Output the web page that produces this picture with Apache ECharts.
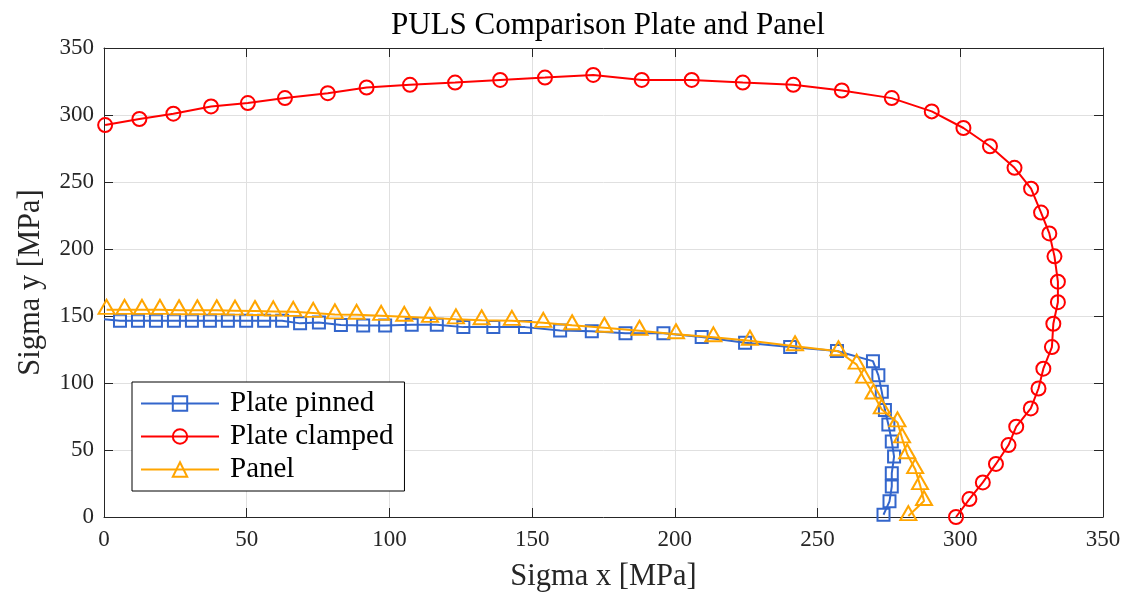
<!DOCTYPE html>
<html>
<head>
<meta charset="utf-8">
<script src="https://cdn.jsdelivr.net/npm/echarts@6/dist/echarts.min.js"></script>
<style>
html,body{margin:0;padding:0;background:#fff;}
#chart{width:1125px;height:597px;}
</style>
</head>
<body>
<div id="chart"></div>
<script>
// ---- Data ----
var xTicks = [0, 50, 100, 150, 200, 250, 300, 350];
var yTicks = [0, 50, 100, 150, 200, 250, 300, 350];

var pinnedX = [0, 5.6, 11.9, 18.2, 24.5, 30.8, 37.1, 43.4, 49.8, 56.1, 62.4, 68.7, 75.3, 83.0, 90.8, 98.5, 107.8, 116.6, 125.9, 136.4, 147.5, 159.8, 170.9, 182.7, 196.0, 209.4, 224.6, 240.4, 256.8, 269.4, 271.3, 272.5, 273.6, 274.8, 276.0, 276.8, 276.0, 276.0, 275.2, 273.1];
var pinnedY = [147.5, 146.4, 146.4, 146.4, 146.4, 146.4, 146.4, 146.4, 146.4, 146.4, 146.4, 144.5, 145.2, 143.2, 143.0, 143.0, 143.4, 143.4, 141.7, 141.7, 141.7, 139.2, 138.7, 137.2, 137.2, 134.3, 130.0, 126.8, 123.9, 116.3, 105.7, 93.4, 79.8, 69.1, 56.3, 45.1, 32.7, 22.8, 11.7, 1.7];

var clampedX = [0.4, 12.4, 24.3, 37.5, 50.4, 63.4, 78.4, 92.0, 107.2, 123.0, 138.8, 154.5, 171.4, 188.4, 205.9, 223.8, 241.5, 258.5, 276.0, 290.0, 301.1, 310.4, 319.0, 324.8, 328.3, 331.2, 333.0, 334.2, 334.2, 332.6, 332.1, 329.1, 327.4, 324.7, 319.6, 316.9, 312.5, 307.9, 303.2, 298.5];
var clampedY = [292.5, 297.0, 301.0, 306.4, 308.9, 312.6, 316.3, 320.5, 322.5, 324.2, 326.2, 327.9, 329.9, 326.2, 326.2, 324.2, 322.5, 318.3, 312.6, 302.7, 290.3, 276.7, 260.6, 245.0, 227.2, 211.6, 194.5, 175.6, 160.3, 144.2, 126.8, 110.7, 95.9, 81.0, 67.4, 53.7, 39.6, 25.8, 13.4, 0];

var panelX = [0.9, 7.2, 13.3, 19.6, 26.3, 32.7, 39.5, 45.9, 52.9, 59.3, 66.3, 73.3, 80.9, 88.5, 97.1, 105.2, 114.2, 123.3, 132.3, 142.9, 153.9, 164.0, 175.3, 187.6, 200.4, 213.5, 226.3, 242.1, 257.3, 263.7, 266.3, 269.6, 272.5, 278.0, 279.6, 281.4, 284.2, 285.9, 287.3, 281.8];
var panelY = [154.6, 154.6, 154.6, 154.6, 154.3, 154.3, 154.3, 154.0, 153.7, 153.4, 153.1, 152.3, 151.2, 150.9, 150.1, 149.4, 148.6, 147.5, 146.8, 146.4, 144.9, 143.1, 141.2, 139.0, 136.4, 134.1, 131.5, 127.4, 123.7, 113.7, 103.3, 91.4, 80.3, 70.6, 58.7, 46.8, 35.7, 23.8, 11.9, 0.7];

var seriesNames = ['Plate pinned', 'Plate clamped', 'Panel'];
var titleText = 'PULS Comparison Plate and Panel';
var xName = 'Sigma x [MPa]';
var yName = 'Sigma y [MPa]';

function pairs(xs, ys) { return xs.map(function (x, i) { return [x, ys[i]]; }); }

var FONT = '"Liberation Serif", "Times New Roman", serif';
var AX = '#262626';
var GRID = '#e0e0e0';

var chart = echarts.init(document.getElementById('chart'), null, {renderer: 'canvas'});

var baseAxis = {
  min: 0, max: 350, interval: 50,
  axisLine: {show: true, onZero: false, lineStyle: {color: AX, width: 1}},
  axisTick: {show: true, inside: true, length: 9, lineStyle: {color: AX}},
  splitLine: {show: false}
};

// pinned series: first point (at the axis) has no marker
var pinnedData = pairs(pinnedX, pinnedY).map(function (p, i) {
  return i === 0 ? {value: p, symbol: 'none'} : p;
});

var option = {
  backgroundColor: '#fff',
  animation: false,
  title: {
    text: titleText,
    left: 603, top: 5, textAlign: 'center',
    textStyle: {fontFamily: FONT, fontWeight: 'normal', fontSize: 31, color: '#000'}
  },
  grid: {left: 104, right: 22, top: 48, bottom: 78, containLabel: false},
  legend: {
    orient: 'vertical',
    left: 132, top: 382,
    padding: [7, 11, 7, 8],
    itemGap: 4,
    itemWidth: 78, itemHeight: 18,
    backgroundColor: '#fff',
    borderColor: '#000', borderWidth: 1, borderRadius: 0,
    textStyle: {fontFamily: FONT, fontSize: 29, color: '#000', lineHeight: 29, padding: [0, 0, 0, 6]},
    data: seriesNames
  },
  xAxis: [
    Object.assign({}, baseAxis, {
      type: 'value', position: 'bottom',
      name: xName, nameLocation: 'middle', nameGap: 44,
      nameTextStyle: {fontFamily: FONT, fontSize: 30.5, color: AX},
      axisLabel: {show: true, margin: 11, fontFamily: FONT, fontSize: 23, color: AX,
        formatter: function (v) { return xTicks.indexOf(v) >= 0 ? String(v) : ''; }},
      splitLine: {show: true, lineStyle: {color: GRID, width: 1}}
    }),
    Object.assign({}, baseAxis, {
      type: 'value', position: 'top', axisLabel: {show: false}
    })
  ],
  yAxis: [
    Object.assign({}, baseAxis, {
      type: 'value', position: 'left',
      name: yName, nameLocation: 'middle', nameGap: 58,
      nameTextStyle: {fontFamily: FONT, fontSize: 30.5, color: AX},
      axisLabel: {show: true, margin: 10, fontFamily: FONT, fontSize: 23, color: AX,
        formatter: function (v) { return yTicks.indexOf(v) >= 0 ? String(v) : ''; }},
      splitLine: {show: true, lineStyle: {color: GRID, width: 1}}
    }),
    Object.assign({}, baseAxis, {
      type: 'value', position: 'right', axisLabel: {show: false}
    })
  ],
  series: [
    {
      name: seriesNames[0], type: 'line', clip: false, z: 2,
      data: pinnedData,
      symbol: 'rect', symbolSize: 12,
      color: '#3366CC',
      lineStyle: {color: '#3366CC', width: 2},
      itemStyle: {color: 'rgba(0,0,0,0)', borderColor: '#3366CC', borderWidth: 2}
    },
    {
      name: seriesNames[1], type: 'line', clip: false, z: 3,
      data: pairs(clampedX, clampedY),
      symbol: 'circle', symbolSize: 14,
      color: '#FF0000',
      lineStyle: {color: '#FF0000', width: 2},
      itemStyle: {color: 'rgba(0,0,0,0)', borderColor: '#FF0000', borderWidth: 2}
    },
    {
      name: seriesNames[2], type: 'line', clip: false, z: 4,
      data: pairs(panelX, panelY),
      symbol: 'triangle', symbolSize: [16, 14], symbolOffset: [0, -3],
      color: '#FFA500',
      lineStyle: {color: '#FFA500', width: 2},
      itemStyle: {color: 'rgba(0,0,0,0)', borderColor: '#FFA500', borderWidth: 2}
    }
  ]
};
chart.setOption(option);
</script>
</body>
</html>
